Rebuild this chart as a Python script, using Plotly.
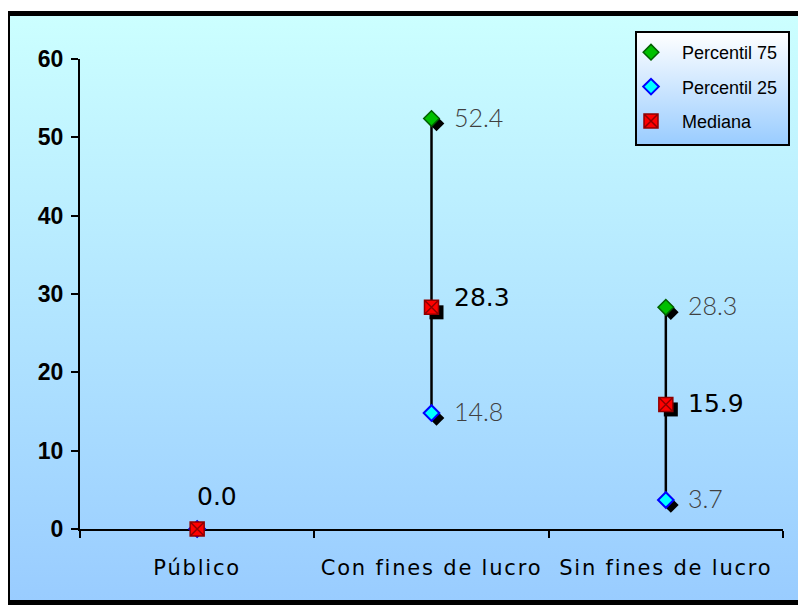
import base64
import plotly.graph_objects as go

# ---- data ----
categories = ["Público", "Con fines de lucro", "Sin fines de lucro"]
p75 = [0.0, 52.4, 28.3]
p25 = [0.0, 14.8, 3.7]
mediana = [0.0, 28.3, 15.9]
y_ticks = [0, 10, 20, 30, 40, 50, 60]

# ---- geometry (figure coords; page adds an 8px body margin) ----
W, H = 798, 597
L, R, T, B = 72, 23, 51, 76
PW, PH = W - L - R, H - T - B
Y_RANGE = [0, 60]
X_RANGE = [-0.5, 2.5]
SH = 5  # shadow offset px
dx = SH * (X_RANGE[1] - X_RANGE[0]) / PW
dy = SH * (Y_RANGE[1] - Y_RANGE[0]) / PH


def px_x(px):
    return (px - L) / PW


def px_y(py):
    return (H - B - py) / PH


fig = go.Figure()

# shadows on base axes (x, y), shifted ranges
for vals, sym, size in [(p75, "diamond", 12), (p25, "diamond", 12), (mediana, "square", 14)]:
    fig.add_trace(go.Scatter(x=categories, y=vals, mode="markers", xaxis="x", yaxis="y",
                             marker=dict(symbol=sym, size=size, color="black",
                                         line=dict(width=0)),
                             showlegend=False, hoverinfo="skip", cliponaxis=False))

# vertical range lines
lx, ly = [], []
for c, lo, hi in zip(categories, p25, p75):
    if hi != lo:
        lx += [c, c, None]
        ly += [lo, hi, None]
fig.add_trace(go.Scatter(x=lx, y=ly, mode="lines", xaxis="x2", yaxis="y2",
                         line=dict(color="black", width=2.5), showlegend=False,
                         hoverinfo="skip", cliponaxis=False))

fig.add_trace(go.Scatter(x=categories, y=p75, mode="markers", name="Percentil 75",
                         xaxis="x2", yaxis="y2", legendgroup="a", cliponaxis=False,
                         marker=dict(symbol="diamond", size=12, color="#00C000",
                                     line=dict(color="#006000", width=1.5))))
fig.add_trace(go.Scatter(x=categories, y=p25, mode="markers", name="Percentil 25",
                         xaxis="x2", yaxis="y2", legendgroup="b", cliponaxis=False,
                         marker=dict(symbol="diamond", size=12, color="#00FFFF",
                                     line=dict(color="#0000FF", width=2))))
fig.add_trace(go.Scatter(x=categories, y=mediana, mode="markers", name="Mediana",
                         xaxis="x2", yaxis="y2", legendgroup="c", cliponaxis=False,
                         marker=dict(symbol="square-x", size=14, color="#FF0000",
                                     line=dict(color="#900000", width=1.5))))

# ---- labels ----
annotations = []
for c, lo, hi in zip(categories, p25, p75):
    if hi != lo:
        for v in (hi, lo):
            annotations.append(dict(x=c, y=v, xref="x2", yref="y2", text=f"{v:.1f}",
                                    showarrow=False, xanchor="left", yanchor="middle",
                                    xshift=20, yshift=2,
                                    font=dict(family="Lato", weight=300, size=25,
                                              color="#404040")))
for c, m, lo, hi in zip(categories, mediana, p25, p75):
    if hi == lo:
        annotations.append(dict(x=c, y=m, xref="x2", yref="y2", text=f"{m:.1f}",
                                showarrow=False, xanchor="center", yanchor="middle",
                                xshift=20, yshift=33,
                                font=dict(family="DejaVu Sans", size=25, color="black")))
    else:
        annotations.append(dict(x=c, y=m, xref="x2", yref="y2", text=f"{m:.1f}",
                                showarrow=False, xanchor="left", yanchor="middle",
                                xshift=20, yshift=10 if m > 20 else 1,
                                font=dict(family="DejaVu Sans", size=25, color="black")))

# ---- background (gradient + border + legend box) ----
lg_x0, lg_y0, lg_x1, lg_y1 = 628, 24, 781, 137
svg = f'''<svg xmlns="http://www.w3.org/2000/svg" width="{W}" height="{H}" viewBox="0 0 {W} {H}" preserveAspectRatio="none">
<defs>
<linearGradient id="g" x1="0" y1="0" x2="0" y2="1"><stop offset="0" stop-color="#CCFFFF"/><stop offset="1" stop-color="#99CCFF"/></linearGradient>
<linearGradient id="lg" x1="0" y1="0" x2="0" y2="1"><stop offset="0" stop-color="#FFFFFF"/><stop offset="1" stop-color="#99CCFF"/></linearGradient>
</defs>
<rect x="0" y="0" width="{W}" height="{H}" fill="white"/>
<rect x="-0.5" y="5.5" width="{W+10}" height="{H-8}" fill="url(#g)" stroke="black" stroke-width="5"/>
<rect x="{lg_x0}" y="{lg_y0}" width="{lg_x1-lg_x0}" height="{lg_y1-lg_y0}" fill="url(#lg)" stroke="black" stroke-width="2"/>
</svg>'''
src = "data:image/svg+xml;base64," + base64.b64encode(svg.encode()).decode()

fig.add_layout_image(dict(source=src, xref="paper", yref="paper",
                          x=-L / PW, y=1 + T / PH, sizex=W / PW, sizey=H / PH,
                          xanchor="left", yanchor="top", sizing="stretch",
                          layer="below"))

tickfont_y = dict(family="Liberation Sans", size=23, weight="bold", color="black")
tickfont_x = dict(family="DejaVu Sans", size=21, color="black")

fig.update_layout(
    width=W, height=H,
    margin=dict(l=L, r=R, t=T, b=B),
    paper_bgcolor="white", plot_bgcolor="rgba(0,0,0,0)",
    annotations=annotations,
    xaxis=dict(type="category", categoryarray=categories, range=[X_RANGE[0] - dx, X_RANGE[1] - dx],
               visible=False),
    yaxis=dict(range=[Y_RANGE[0] + dy, Y_RANGE[1] + dy], visible=False),
    xaxis2=dict(type="category", categoryarray=categories, range=X_RANGE, overlaying="x",
                showline=True, linecolor="black", linewidth=2, tickson="boundaries",
                ticks="outside", ticklen=7, tickwidth=2, tickcolor="black",
                showgrid=False, zeroline=False, tickfont=tickfont_x,
                ticklabelstandoff=19, layer="below traces"),
    yaxis2=dict(range=Y_RANGE, overlaying="y", tickvals=y_ticks, showline=True,
                linecolor="black", linewidth=2, ticks="outside", ticklen=7,
                tickwidth=2, tickcolor="black", showgrid=False, zeroline=False,
                tickfont=tickfont_y, ticklabelstandoff=3, layer="below traces"),
    xaxis3=dict(range=X_RANGE, overlaying="x", tickvals=[-0.5, 0.5, 1.5, 2.5],
                ticks="inside", ticklen=7, tickwidth=2, tickcolor="black",
                showticklabels=False, showgrid=False, zeroline=False, showline=False),
    yaxis3=dict(range=Y_RANGE, overlaying="y", tickvals=y_ticks, ticks="inside",
                ticklen=7, tickwidth=2, tickcolor="black", showticklabels=False,
                showgrid=False, zeroline=False, showline=False),
    legend=dict(x=px_x(612), y=px_y(26), xanchor="left", yanchor="top",
                bgcolor="rgba(0,0,0,0)", borderwidth=0, tracegroupgap=8,
                font=dict(family="Liberation Sans", size=18, color="black"),
                itemwidth=52),
    showlegend=True,
)

post = """
document.querySelectorAll('.x2tick text').forEach(function(t){t.style.letterSpacing='1.8px';});
"""
fig.write_html("out.html", post_script=post)
